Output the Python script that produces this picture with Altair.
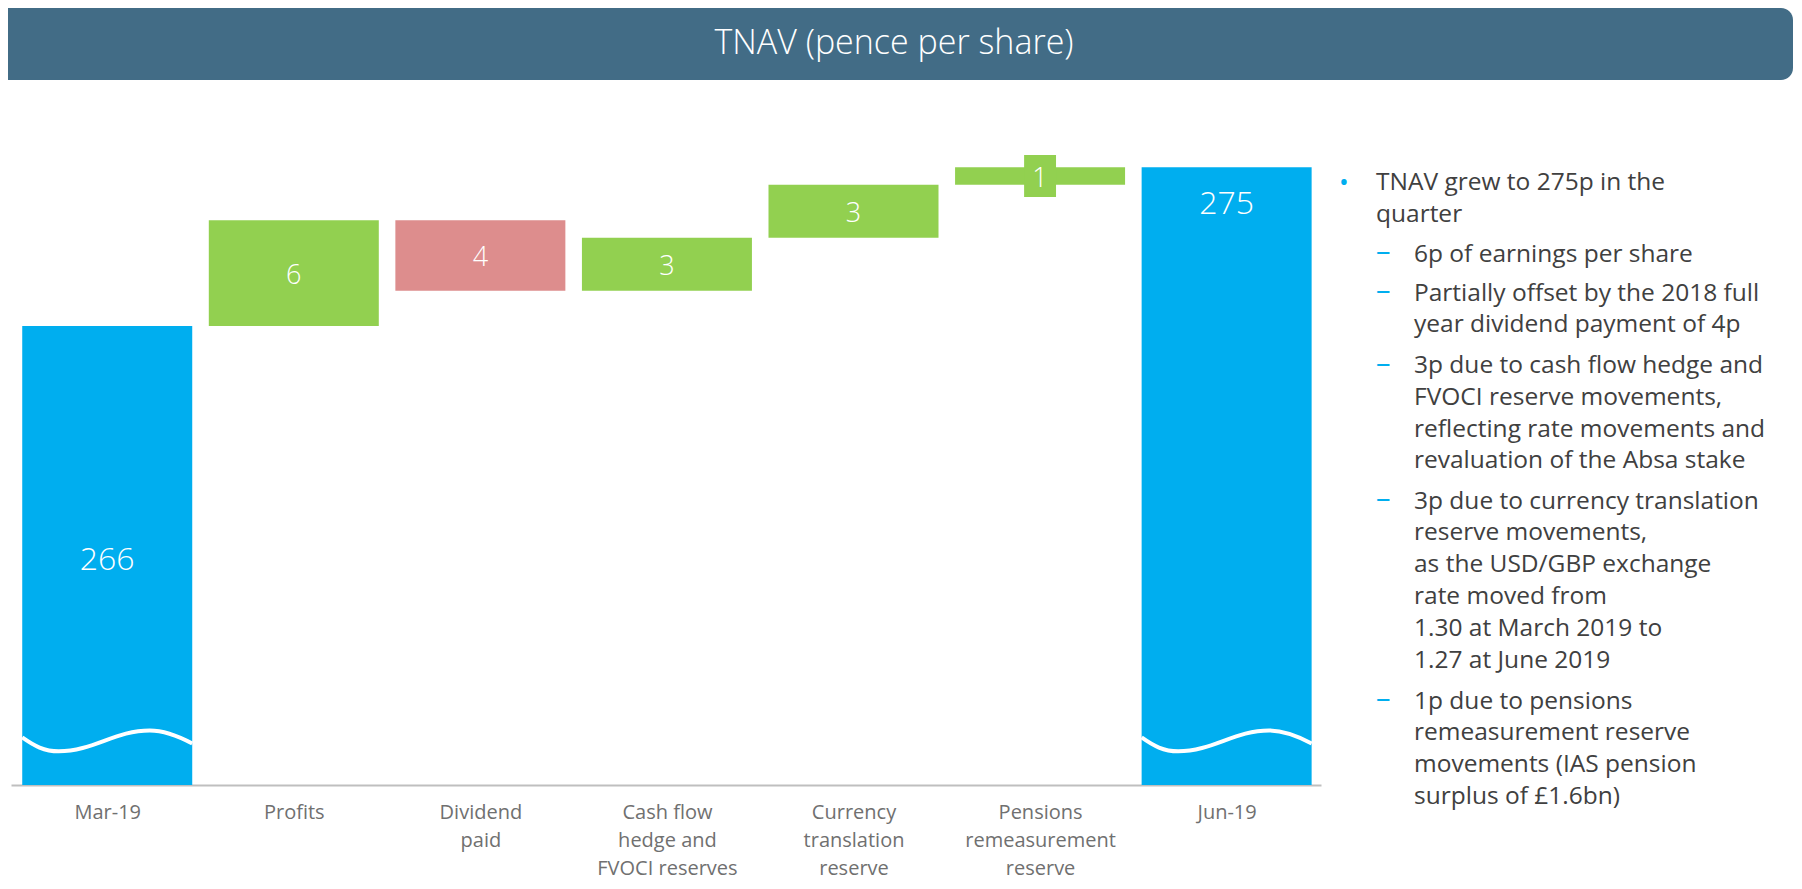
import json
import altair as alt
import pandas as pd

# ---------------- data ----------------
categories = [
    "Mar-19",
    "Profits",
    "Dividend\npaid",
    "Cash flow\nhedge and\nFVOCI reserves",
    "Currency\ntranslation\nreserve",
    "Pensions\nremeasurement\nreserve",
    "Jun-19",
]
kinds = ["total", "increase", "decrease", "increase", "increase", "increase", "total"]
values = [266, 6, -4, 3, 3, 1, 275]
value_labels = ["266", "6", "4", "3", "3", "1", "275"]

title_text = "TNAV (pence per share)"
bullet_lines = ["TNAV grew to 275p in the", "quarter"]
sub_items = [
    ["6p of earnings per share"],
    ["Partially offset by the 2018 full", "year dividend payment of 4p"],
    ["3p due to cash flow hedge and", "FVOCI reserve movements,",
     "reflecting rate movements and", "revaluation of the Absa stake"],
    ["3p due to currency translation", "reserve movements,",
     "as the USD/GBP exchange", "rate moved from",
     "1.30 at March 2019 to", "1.27 at June 2019"],
    ["1p due to pensions", "remeasurement reserve",
     "movements (IAS pension", "surplus of £1.6bn)"],
]

AXIS_FLOOR = 240      # broken axis floor
AXIS_TOP = 277.9
BREAK_AT = 242.5      # where the wavy break line sits

# ---------------- build table ----------------
rows = []
running = 0
for i, (c, k, v, lab) in enumerate(zip(categories, kinds, values, value_labels)):
    if k == "total":
        start, end = AXIS_FLOOR, v
        running = v
    else:
        start, end = running, running + v
        running = end
    rows.append(dict(idx=i, cat=c, kind=k, start=start, end=end,
                     mid=(start + end) / 2, label=lab, last=(i == len(categories) - 1)))
df = pd.DataFrame(rows)

label_arrays = [c.split("\n") for c in categories]
label_expr = json.dumps(label_arrays) + "[datum.value]"

FONT = "Open Sans"
BLUE = "#00AEEF"
GREEN = "#92D050"
PINK = "#DD8D8D"
HEADER = "#426C86"
TEXT = "#404040"

one = pd.DataFrame({"a": [0]})

xscale = alt.Scale(domain=[-0.489, 6.479], nice=False, zero=False)
yscale = alt.Scale(domain=[AXIS_FLOOR, AXIS_TOP], nice=False, zero=False)

base = alt.Chart(df)

bars = base.mark_bar(width=170).encode(
    x=alt.X("idx:Q", scale=xscale, title=None,
            axis=alt.Axis(values=list(range(len(categories))), labelExpr=label_expr,
                          domainColor="#BFBFBF", domainWidth=2, ticks=False, tickSize=0,
                          grid=False, labelColor="#707070", labelFontSize=20,
                          labelLineHeight=28, labelPadding=17, labelBaseline="top",
                          labelAlign="center", labelOverlap=False, labelFlush=False,
                          labelFont=FONT)),
    y=alt.Y("start:Q", scale=yscale, axis=None),
    y2="end:Q",
    color=alt.Color("kind:N", legend=None,
                    scale=alt.Scale(domain=["total", "increase", "decrease"],
                                    range=[BLUE, GREEN, PINK])),
)

WAVE = ("M-1,-0.04 C-0.86,0.06 -0.74,0.123 -0.57,0.123 "
        "C-0.17,0.123 0.1,-0.123 0.5,-0.123 C0.68,-0.123 0.85,-0.05 1,0.03")
waves = base.transform_filter("datum.kind == 'total'").mark_point(
    shape=WAVE, filled=False, color="white", strokeWidth=4, size=28900, opacity=1
).encode(x="idx:Q", y=alt.datum(BREAK_AT))

BOX = "M-0.76,-1L0.76,-1L0.76,1L-0.76,1Z"
small_box = base.transform_filter(
    "datum.kind != 'total' && abs(datum.end - datum.start) < 2"
).mark_point(shape=BOX, filled=True, color=GREEN, size=1764, opacity=1).encode(
    x="idx:Q", y="mid:Q")

delta_text = base.transform_filter("datum.kind != 'total'").mark_text(
    font=FONT, fontSize=27, fontWeight=300, color="white", baseline="middle", dy=3
).encode(x="idx:Q", y="mid:Q", text="label:N")

first_text = base.transform_filter("datum.kind == 'total' && !datum.last").mark_text(
    font=FONT, fontSize=32, fontWeight=300, color="white", baseline="middle", dy=4
).encode(x="idx:Q", y="mid:Q", text="label:N")

last_text = base.transform_filter("datum.last").mark_text(
    font=FONT, fontSize=32, fontWeight=300, color="white", baseline="middle", dy=37
).encode(x="idx:Q", y="end:Q", text="label:N")

# ---------------- header ----------------
header = alt.Chart(one).mark_rect(
    color=HEADER, cornerRadiusTopRight=12, cornerRadiusBottomRight=12
).encode(x=alt.value(-3), x2=alt.value(1782), y=alt.value(-108), y2=alt.value(-36))

title = alt.Chart(one).mark_text(
    text=title_text, font=FONT, fontSize=34, fontWeight=300, color="white",
    align="center", baseline="middle"
).encode(x=alt.value(883), y=alt.value(-72))

# ---------------- right commentary ----------------
OX, OY = 11, 116
LH = 31.8
def para_top(center):
    return center - 11.5 - OY

side = []
side.append(alt.Chart(one).mark_text(text="•", font=FONT, fontSize=26, color=BLUE,
                                     align="left", baseline="middle")
            .encode(x=alt.value(1339 - OX), y=alt.value(182.5 - OY)))
side.append(alt.Chart(one).mark_text(text=bullet_lines, font=FONT, fontSize=24.5, color=TEXT,
                                     align="left", baseline="top", lineHeight=LH)
            .encode(x=alt.value(1376 - OX), y=alt.value(para_top(182.5))))
centers = [254, 293, 365.5, 501, 701]
for lines, c in zip(sub_items, centers):
    side.append(alt.Chart(one).mark_text(text="–", font=FONT, fontSize=29, color=BLUE,
                                         align="left", baseline="middle")
                .encode(x=alt.value(1376 - OX), y=alt.value(c - 2 - OY)))
    side.append(alt.Chart(one).mark_text(text=lines, font=FONT, fontSize=24.5, color=TEXT,
                                         align="left", baseline="top", lineHeight=LH)
                .encode(x=alt.value(1414 - OX), y=alt.value(para_top(c))))

chart = alt.layer(
    header, title, bars, waves, small_box, delta_text, first_text, last_text, *side
).properties(
    width=1310, height=669,
    padding={"left": 3, "top": 108, "right": 473, "bottom": 96},
    autosize=alt.AutoSizeParams(type="none"),
).configure(font=FONT).configure_view(stroke=None, strokeWidth=0)

chart.save("out.html", embed_options={"renderer": "svg", "actions": False})
